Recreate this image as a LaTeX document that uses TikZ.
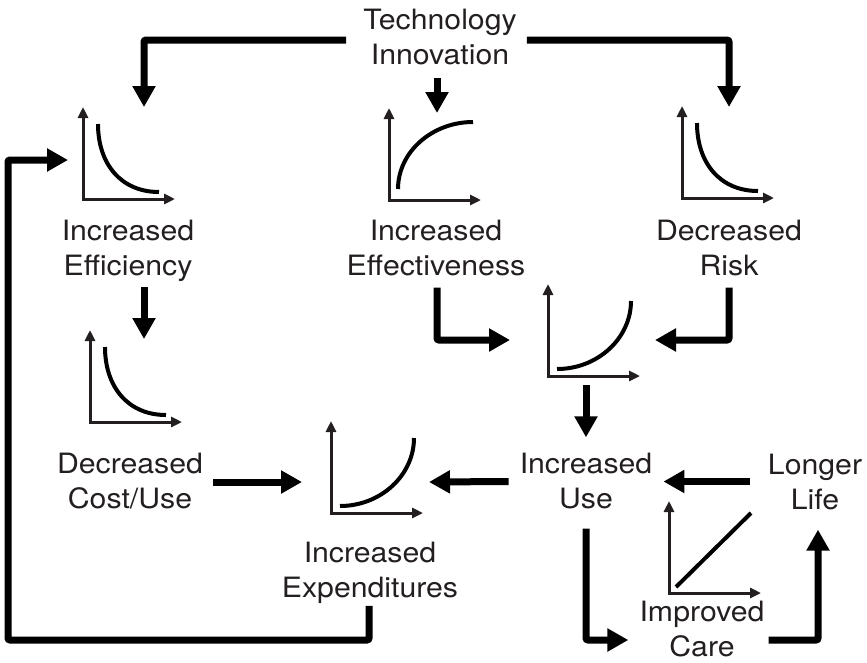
\documentclass[tikz,border=0pt]{standalone}
\usepackage{fontspec}
\setmainfont[FakeStretch=1.08]{TeX Gyre Heros}
\usetikzlibrary{arrows.meta}
\definecolor{ink}{HTML}{231F20}
\tikzset{
	txt/.style={align=center, inner sep=0pt, text=ink, font=\fontsize{28}{35}\selectfont},
	plot/.style={anchor=south west, minimum width=92pt, minimum height=92pt, inner sep=0pt, outer sep=0pt},
	axis/.style={draw=ink, line width=3pt, {Triangle[length=11pt,width=10pt]}-{Triangle[length=11pt,width=10pt]}},
	curve/.style={line width=4pt},
	flow/.style={line width=7pt, rounded corners=2pt, -{Triangle[length=21pt,width=22pt]}}
}
\def\plotaxes(#1){\draw[axis] (#1.north west) -- (#1.south west) -- (#1.south east);}
\def\decay(#1){\draw[curve] ([shift={(15,-75)}]#1.south west) .. controls +(0,40) and +(-38,0) .. ([shift={(76,-7)}]#1.south west);}
\def\growth(#1){\draw[curve] ([shift={(9,-11)}]#1.south west) .. controls +(0,-37) and +(-41,0) .. ([shift={(84,-78)}]#1.south west);}
\def\upturn(#1){\draw[curve] ([shift={(9,-7)}]#1.south west) .. controls +(41,0) and +(0,37) .. ([shift={(83,-75)}]#1.south west);}
\def\linear(#1){\draw[curve] ([shift={(7,-6)}]#1.south west) -- ([shift={(82,-80)}]#1.south west);}

\begin{document}
\begin{tikzpicture}[x=1pt, y=-1pt]
			%%%%% START %%%%%
			\useasboundingbox (0,0) rectangle (867,662);
			
			\node[txt] (tech) at (440,37) {Technology\\Innovation};
			\node[txt] (eff) at (128,251) {Increased\\Efficiency};
			\node[txt] (effv) at (436,247.5) {Increased\\Effectiveness};
			\node[txt] (risk) at (729,247.5) {Decreased\\Risk};
			\node[txt] (cost) at (130,481) {Decreased\\Cost/Use};
			\node[txt] (exp) at (370,573) {Increased\\Expenditures};
			\node[txt] (use) at (586,481.5) {Increased\\Use};
			\node[txt] (life) at (815,481.5) {Longer\\Life};
			\node[txt] (care) at (702,629.5) {Improved\\Care};
			
			\node[plot] (gEff) at (83,199) {};
			\node[plot] (gEffv) at (389,200) {};
			\node[plot] (gRisk) at (682,198) {};
			\node[plot] (gUse) at (548,376) {};
			\node[plot] (gCost) at (90,422) {};
			\node[plot] (gExp) at (331,513) {};
			\node[plot] (gCare) at (669,593) {};
			
			\plotaxes(gEff) \decay(gEff)
			\plotaxes(gEffv) \growth(gEffv)
			\plotaxes(gRisk) \decay(gRisk)
			\plotaxes(gUse) \upturn(gUse)
			\plotaxes(gCost) \decay(gCost)
			\plotaxes(gExp) \upturn(gExp)
			\plotaxes(gCare) \linear(gCare)
			
			\draw[flow] ([shift={(-17,3)}]tech.west) -| ([shift={(61,0)}]gEff.north west);
			\draw[flow] ([shift={(10,3)}]tech.east) -| ([shift={(47,1)}]gRisk.north west);
			\draw[flow] ([shift={(-3,13)}]tech.south) -- ([shift={(48,5)}]gEffv.north west);
			
			\draw[flow] ([shift={(16,5)}]eff.south) -- ([shift={(54,9)}]gCost.north west);
			\draw[flow] ([shift={(1,12)}]effv.south) |- ([shift={(-38,10)}]gUse.west);
			\draw[flow] ([shift={(0,12)}]risk.south) |- ([shift={(15,10)}]gUse.east);
			\draw[flow] ([shift={(-8,9)}]gUse.south) -- ([shift={(0,-16)}]use.north);
			
			\draw[flow] ([shift={(10,1)}]cost.east) -- ([shift={(-29,15)}]gExp.west);
			\draw[flow] ([shift={(-11,0)}]use.west) -- ([shift={(6,15)}]gExp.east);
			\draw[flow] ([shift={(-18,0)}]life.west) -- ([shift={(11,0)}]use.east);
			
			\draw[flow] ([shift={(0,19)}]use.south) |- ([shift={(-11,10.5)}]care.west);
			\draw[flow] ([shift={(4,10.5)}]care.east) -| ([shift={(3,20)}]life.south);
			
			\coordinate (loop) at (8,640);
			\draw[flow] ([shift={(-1,2)}]exp.south) |- (loop) |- ([shift={(-15,7)}]gEff.west);
			
			%%%%% END %%%%%
\end{tikzpicture}
\end{document}
